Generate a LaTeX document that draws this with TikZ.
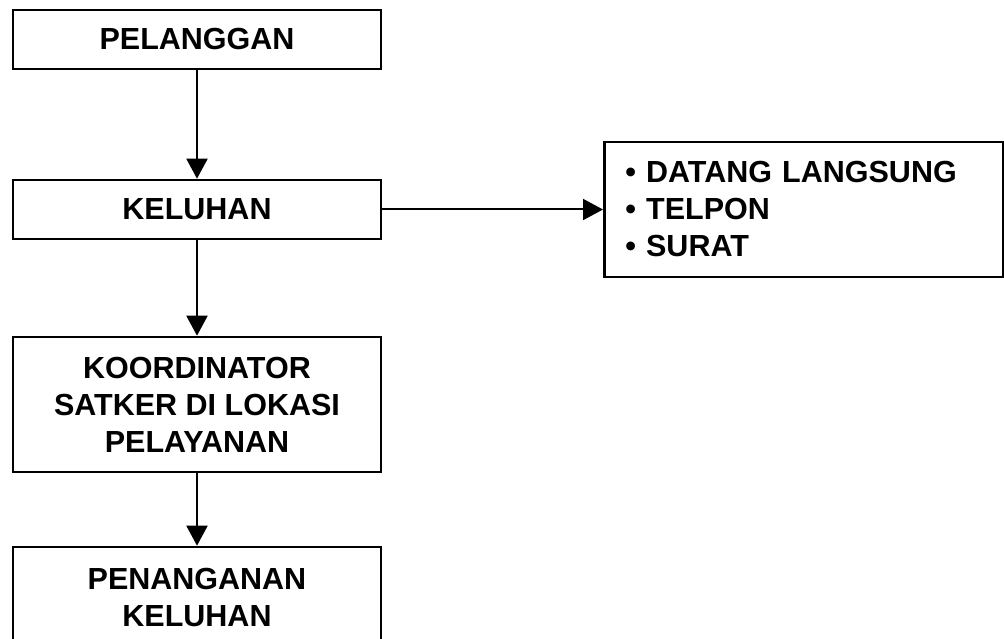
\documentclass[tikz,border=0pt]{standalone}
\usepackage{fontspec}
\setmainfont{Liberation Sans}
\usetikzlibrary{arrows.meta}

\tikzset{
kotak/.style={draw, line width=2.6pt, minimum width=368pt, align=center, inner sep=0pt,
  font=\bfseries\fontsize{30.5}{37}\selectfont},
daftar/.style={draw, line width=2.6pt, anchor=west, minimum height=135pt, text width=357pt,
  inner xsep=21pt, align=left, font=\bfseries\fontsize{30.5}{37}\selectfont},
panah/.style={-{Triangle[width=21pt,length=20pt]}, line width=2pt}
}

\begin{document}
\begin{tikzpicture}[x=1pt,y=-1pt]
\useasboundingbox (0,0) rectangle (1004,639);

% alur kiri
\node[kotak, minimum height=59pt] (pelanggan) at (197,39.5) {PELANGGAN};
\node[kotak, minimum height=59pt] (keluhan) at (197,209.5) {KELUHAN};
\node[kotak, minimum height=135pt] (koordinator) at (197,404.5) {KOORDINATOR\\SATKER DI LOKASI\\PELAYANAN};
\node[kotak, minimum height=101pt] (penanganan) at (197,597.5) {PENANGANAN\\KELUHAN};

% media keluhan
\node[daftar] (media) at (603,209.5) {• DATANG LANGSUNG\\• TELPON\\• SURAT};

\draw[panah] (pelanggan) -- (keluhan);
\draw[panah] (keluhan) -- (koordinator);
\draw[panah] (koordinator) -- (penanganan);
\draw[panah] (keluhan.east) -- (media.west);

\end{tikzpicture}
\end{document}
